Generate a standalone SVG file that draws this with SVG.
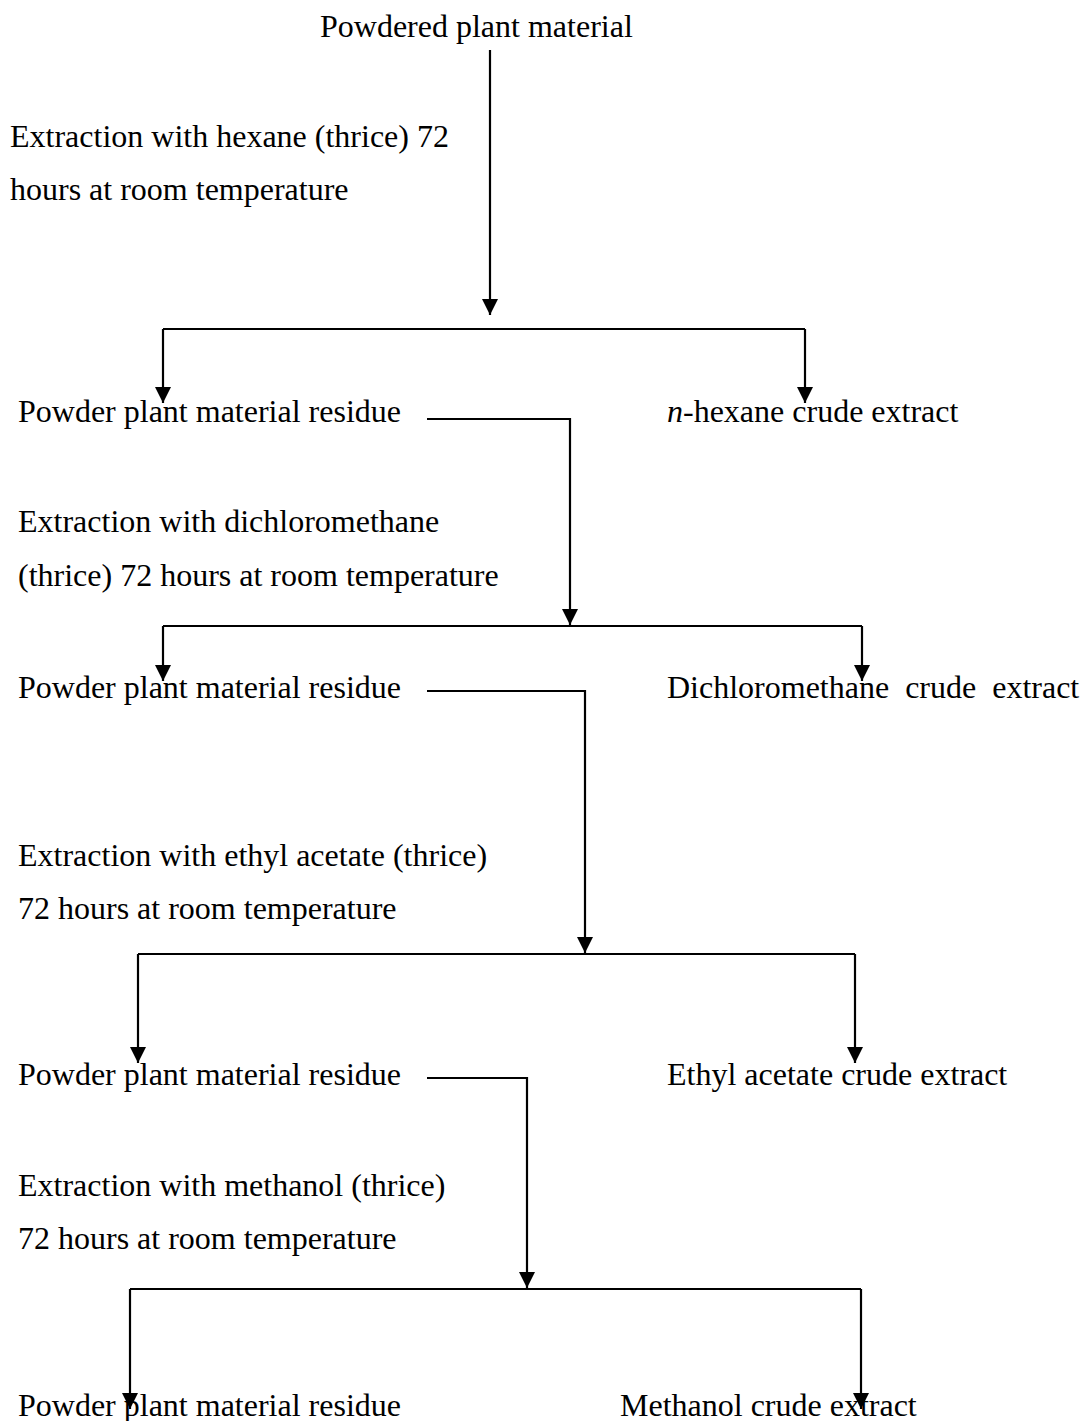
<svg xmlns="http://www.w3.org/2000/svg" width="1082" height="1421" viewBox="0 0 1082 1421">
<style>
text{font-family:"Liberation Serif","Times New Roman",serif;font-size:32px;fill:#000}
.c{fill:none;stroke:#000;stroke-width:2.2}
</style>
<defs>
<marker id="ah" viewBox="0 0 16 16" refX="16" refY="8" markerWidth="16" markerHeight="16" markerUnits="userSpaceOnUse" orient="auto">
<path d="M0,0 L16,8 L0,16 Z" fill="#000"/>
</marker>
</defs>
<rect width="1082" height="1421" fill="#fff"/>
<g id="connectors">
<line class="c" x1="490" y1="50" x2="490" y2="315" marker-end="url(#ah)"/>
<path class="c" d="M163,329 H805"/>
<line class="c" x1="163" y1="329" x2="163" y2="403" marker-end="url(#ah)"/>
<line class="c" x1="805" y1="329" x2="805" y2="403" marker-end="url(#ah)"/>
<path class="c" d="M427,419 H570 V625" marker-end="url(#ah)"/>
<path class="c" d="M163,626 H862"/>
<line class="c" x1="163" y1="626" x2="163" y2="681" marker-end="url(#ah)"/>
<line class="c" x1="862" y1="626" x2="862" y2="681" marker-end="url(#ah)"/>
<path class="c" d="M427,691 H585 V953" marker-end="url(#ah)"/>
<path class="c" d="M138,954 H855"/>
<line class="c" x1="138" y1="954" x2="138" y2="1063" marker-end="url(#ah)"/>
<line class="c" x1="855" y1="954" x2="855" y2="1063" marker-end="url(#ah)"/>
<path class="c" d="M427,1078 H527 V1288" marker-end="url(#ah)"/>
<path class="c" d="M130,1289 H861"/>
<line class="c" x1="130" y1="1289" x2="130" y2="1409" marker-end="url(#ah)"/>
<line class="c" x1="861" y1="1289" x2="861" y2="1409" marker-end="url(#ah)"/>
</g>
<g id="start"><text x="320" y="37">Powdered plant material</text></g>
<g id="step1"><text x="10" y="147">Extraction with hexane (thrice) 72</text><text x="10" y="200">hours at room temperature</text></g>
<g id="residue1"><text x="18" y="422">Powder plant material residue</text></g>
<g id="hexane"><text x="667" y="422"><tspan font-style="italic">n</tspan>-hexane crude extract</text></g>
<g id="step2"><text x="18" y="532">Extraction with dichloromethane</text><text x="18" y="586">(thrice) 72 hours at room temperature</text></g>
<g id="residue2"><text x="18" y="698">Powder plant material residue</text></g>
<g id="dcm"><text x="667" y="698" xml:space="preserve">Dichloromethane  crude  extract</text></g>
<g id="step3"><text x="18" y="866">Extraction with ethyl acetate (thrice)</text><text x="18" y="919">72 hours at room temperature</text></g>
<g id="residue3"><text x="18" y="1085">Powder plant material residue</text></g>
<g id="ethyl"><text x="667" y="1085">Ethyl acetate crude extract</text></g>
<g id="step4"><text x="18" y="1196">Extraction with methanol (thrice)</text><text x="18" y="1249">72 hours at room temperature</text></g>
<g id="residue4"><text x="18" y="1416">Powder plant material residue</text></g>
<g id="methanol"><text x="620" y="1416">Methanol crude extract</text></g>
</svg>
